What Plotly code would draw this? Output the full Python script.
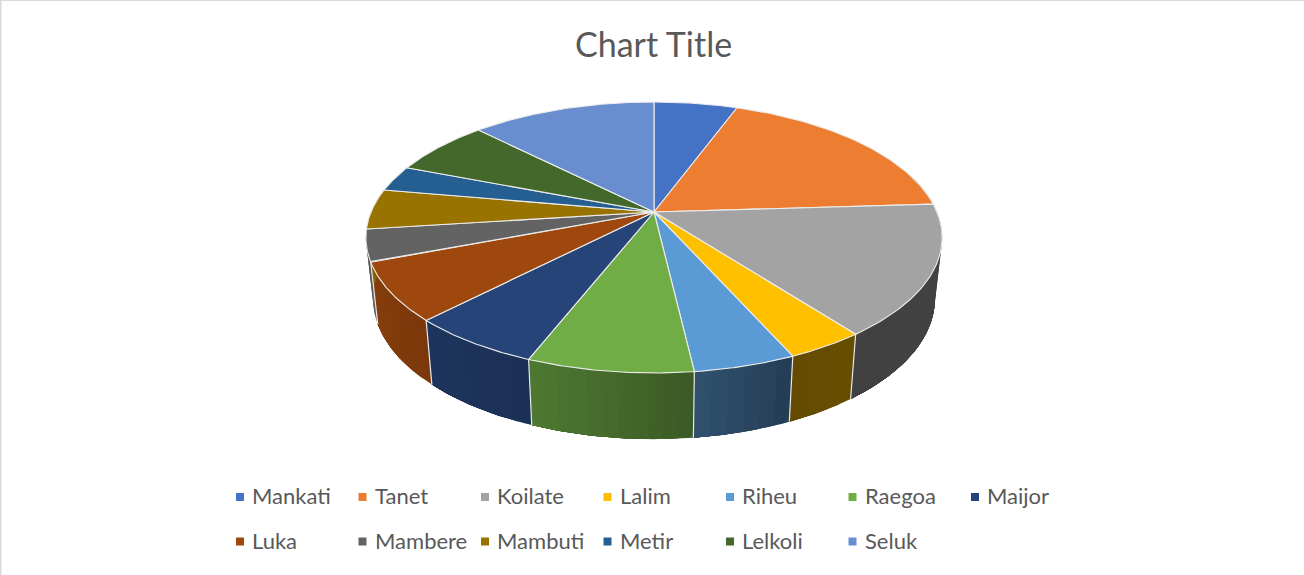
import numpy as np
import plotly.graph_objects as go

categories = ["Mankati", "Tanet", "Koilate", "Lalim", "Riheu", "Raegoa", "Maijor",
              "Luka", "Mambere", "Mambuti", "Metir", "Lelkoli", "Seluk"]
values = [5.6, 18.4, 15.6, 3.7, 4.8, 7.8, 6.3, 6.9, 3.8, 4.8, 3.1, 6.7, 12.4]
colors = ["#4472C4", "#ED7D31", "#A3A3A3", "#FFC000", "#5B9BD5", "#70AD47", "#264478",
          "#9E480E", "#636363", "#997300", "#255E91", "#43682B", "#698ED0"]
title_text = "Chart Title"

# side wall shading: brightness factor by angle around the pie
shade_angles = [80, 145, 156, 173, 201, 224, 250, 290]
shade_factors = [0.41, 0.40, 0.39, 0.52, 0.70, 0.78, 0.85, 0.85]

CX, CY, A, B, K = 654.0, 212.0, 283.0, 130.7, 0.188


def top(theta):
    u, v = np.sin(theta), -np.cos(theta)
    w = 1 - K * v
    return CX + A * u / w, CY + B * v / w


def bottom(theta):
    x, y = top(theta)
    return CX + (x - CX) * 0.975, 1.038 * y + 52


def rgb(hex_color, f=1.0):
    c = [int(hex_color[i:i + 2], 16) for i in (1, 3, 5)]
    return "rgb(%d,%d,%d)" % tuple(round(x * f) for x in c)


edges = np.radians(np.concatenate([[0], np.cumsum(values) / np.sum(values) * 360]))
side_from, side_to = np.radians(70), np.radians(292)

fig = go.Figure()

# side walls: each band runs to the end of its slice, so the next band paints over it without seams
for i, cat in enumerate(categories):
    a0, a1 = max(edges[i], side_from), min(edges[i + 1], side_to)
    if a1 <= a0:
        continue
    n = max(1, int(np.degrees(a1 - a0) / 2.5))
    steps = np.linspace(a0, a1, n + 1)
    for s0, s1 in zip(steps[:-1], steps[1:]):
        t = np.linspace(s0, a1, 30)
        xt, yt = top(t)
        xb, yb = bottom(t[::-1])
        col = rgb(colors[i], float(np.interp(np.degrees((s0 + s1) / 2), shade_angles, shade_factors)))
        fig.add_trace(go.Scatter(
            x=np.r_[xt, xb, xt[0]], y=np.r_[yt, yb, yt[0]], mode="lines", fill="toself",
            fillcolor=col, line=dict(width=0), hoverinfo="skip", showlegend=False))

for i, cat in enumerate(categories):
    if side_from <= edges[i] <= np.radians(262):
        xt, yt = top(edges[i])
        xb, yb = bottom(edges[i])
        fig.add_trace(go.Scatter(x=[xt, xb], y=[yt, yb], mode="lines",
                                 line=dict(color="#E8E8E8", width=1.2),
                                 hoverinfo="skip", showlegend=False))

# top face
for i, cat in enumerate(categories):
    t = np.linspace(edges[i], edges[i + 1], 60)
    x, y = top(t)
    fig.add_trace(go.Scatter(
        x=np.r_[CX, x, CX], y=np.r_[CY, y, CY], mode="lines", fill="toself",
        fillcolor=colors[i], line=dict(color="#EDEDED", width=1.1),
        name=cat, text=f"{cat}: {values[i]}", hoverinfo="text", showlegend=False))

# legend, two rows of seven
annotations = []
for i, cat in enumerate(categories):
    row, col = divmod(i, 7)
    lx = 240 + col * 122.5
    ly = 497 + row * 44.5
    fig.add_trace(go.Scatter(x=[lx], y=[ly], mode="markers", hoverinfo="skip", showlegend=False,
                             marker=dict(symbol="square", size=8, color=colors[i])))
    annotations.append(dict(x=lx + 10, y=ly - 1.5, xref="x", yref="y", text=cat, showarrow=False,
                            xanchor="left", yanchor="middle",
                            font=dict(family="Lato", size=22, color="#595959")))

annotations.append(dict(x=653, y=43, xref="x", yref="y", text=title_text, showarrow=False,
                        xanchor="center", yanchor="middle",
                        font=dict(family="Lato", size=34, color="#595959")))

frame = [dict(type="line", xref="paper", yref="paper", x0=0, x1=1, y0=1, y1=1,
              line=dict(color="#D9D9D9", width=2)),
         dict(type="line", xref="paper", yref="paper", x0=0, x1=0, y0=0, y1=1,
              line=dict(color="#D9D9D9", width=3))]

fig.update_layout(
    width=1304, height=575, margin=dict(l=0, r=0, t=0, b=0),
    paper_bgcolor="white", plot_bgcolor="white", showlegend=False,
    xaxis=dict(range=[0, 1304], visible=False, fixedrange=True),
    yaxis=dict(range=[575, 0], visible=False, fixedrange=True),
    annotations=annotations, shapes=frame)

fig.write_html("out.html", config=dict(displayModeBar=False),
               post_script="document.body.style.margin='0';document.body.style.overflow='hidden';")
